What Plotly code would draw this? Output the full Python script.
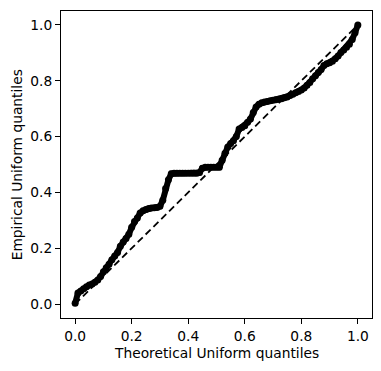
import plotly.graph_objects as go

# Theoretical uniform quantiles (x) and empirical quantiles (y)
theoretical = [i / 100 for i in range(101)]
empirical = [
    0.003, 0.040, 0.047, 0.055, 0.062, 0.068, 0.072, 0.078, 0.086, 0.099,
    0.116, 0.130, 0.143, 0.159, 0.172, 0.185, 0.207, 0.222, 0.235, 0.250,
    0.275, 0.296, 0.308, 0.326, 0.334, 0.339, 0.342, 0.344, 0.345, 0.346,
    0.350, 0.372, 0.414, 0.445, 0.467, 0.469, 0.469, 0.469, 0.469, 0.469,
    0.469, 0.469, 0.469, 0.469, 0.471, 0.487, 0.490, 0.490, 0.490, 0.490,
    0.490, 0.490, 0.515, 0.540, 0.563, 0.575, 0.585, 0.600, 0.627, 0.633,
    0.639, 0.651, 0.663, 0.686, 0.706, 0.716, 0.721, 0.724, 0.726, 0.728,
    0.730, 0.732, 0.734, 0.736, 0.739, 0.742, 0.747, 0.752, 0.757, 0.762,
    0.767, 0.774, 0.784, 0.794, 0.807, 0.818, 0.830, 0.840, 0.855, 0.861,
    0.865, 0.870, 0.879, 0.889, 0.901, 0.910, 0.920, 0.931, 0.948, 0.972,
    1.000,
]
ref_line = [0.0, 1.0]
tick_vals = [0.0, 0.2, 0.4, 0.6, 0.8, 1.0]
tick_text = ["0.0", "0.2", "0.4", "0.6", "0.8", "1.0"]
x_title = "Theoretical Uniform quantiles"
y_title = "Empirical Uniform quantiles"

FS = 13.8

fig = go.Figure()
fig.add_trace(go.Scatter(
    x=theoretical, y=empirical, mode="lines+markers",
    line=dict(color="black", width=6),
    marker=dict(color="black", size=7),
    showlegend=False, hoverinfo="skip",
))
fig.add_trace(go.Scatter(
    x=ref_line, y=ref_line, mode="lines",
    line=dict(color="black", width=1.8, dash="7px,4px"),
    showlegend=False, hoverinfo="skip",
))

axis_common = dict(
    showgrid=False, zeroline=False, showline=True, linecolor="black",
    linewidth=1, mirror=True, ticks="outside", ticklen=5, tickwidth=1,
    tickcolor="black", tickvals=tick_vals, ticktext=tick_text,
    tickfont=dict(family="DejaVu Sans", size=FS, color="black"),
    automargin=False,
)
fig.update_layout(
    width=381, height=371,
    margin=dict(l=61, r=9, t=11, b=53),
    plot_bgcolor="white", paper_bgcolor="white",
    font=dict(family="DejaVu Sans", size=FS, color="black"),
    xaxis=dict(range=[-0.05, 1.05], **axis_common),
    yaxis=dict(range=[-0.05, 1.05], **axis_common),
    annotations=[
        dict(text=x_title, xref="paper", yref="paper", x=0.5, y=-0.113,
             xanchor="center", yanchor="middle", showarrow=False,
             font=dict(family="DejaVu Sans", size=FS, color="black")),
        dict(text=y_title, xref="paper", yref="paper", x=-0.142, y=0.5,
             xanchor="center", yanchor="middle", showarrow=False, textangle=-90,
             font=dict(family="DejaVu Sans", size=FS, color="black")),
    ],
)
fig.write_html(
    "out.html",
    config={"displayModeBar": False},
    post_script="document.body.style.margin='0';document.body.style.overflow='hidden';",
)
